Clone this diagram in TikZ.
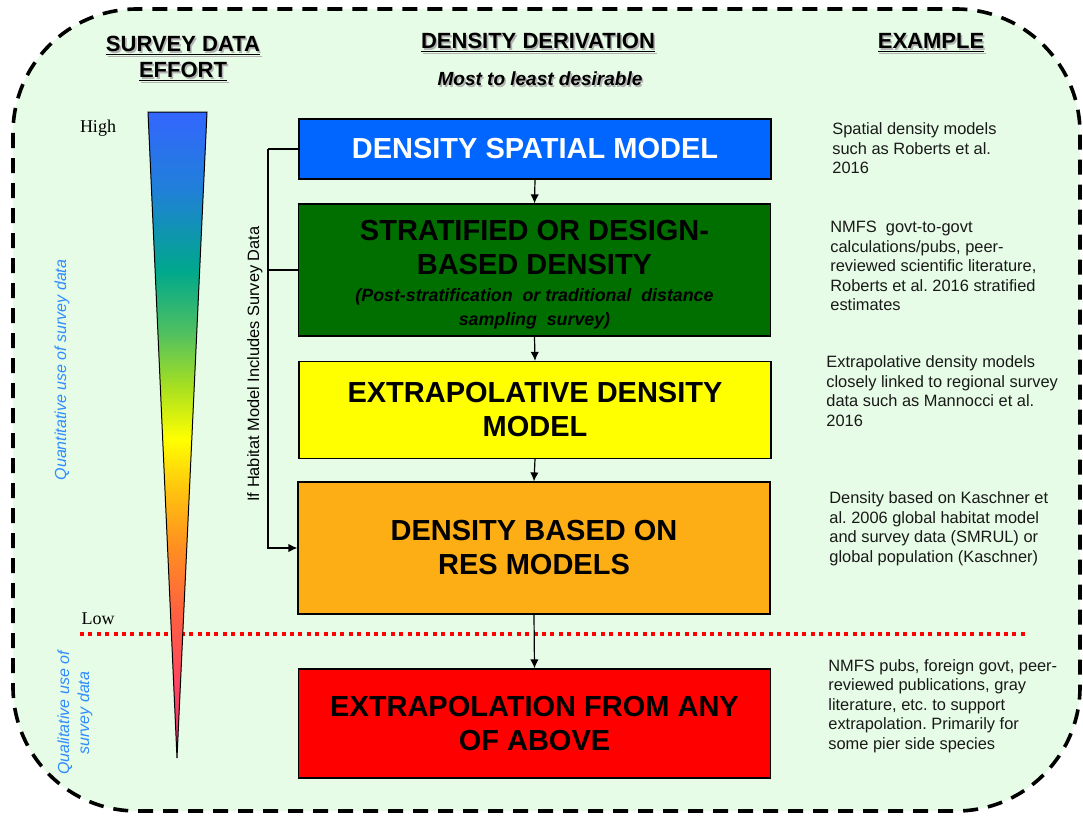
\documentclass[tikz,border=0pt]{standalone}
\usepackage{fontspec}
\setmainfont{Liberation Sans}
\newfontfamily\hlfont{Liberation Serif}
\usetikzlibrary{arrows.meta}

\definecolor{bgmint}{HTML}{E6FCE6}
\definecolor{spatialblue}{HTML}{0066FF}
\definecolor{stratgreen}{HTML}{006F00}
\definecolor{extrapyellow}{HTML}{FFFF00}
\definecolor{resorange}{HTML}{FDAE14}
\definecolor{abovered}{HTML}{FF0000}
\definecolor{usageblue}{HTML}{2E8CFF}
\definecolor{efftop}{HTML}{3366FF}
\definecolor{effsky}{HTML}{2080D8}
\definecolor{effteal}{HTML}{00A88C}
\definecolor{effgreen}{HTML}{50C060}
\definecolor{efflime}{HTML}{A8E020}
\definecolor{effyellow}{HTML}{FFFF00}
\definecolor{effamber}{HTML}{FFC010}
\definecolor{effoj}{HTML}{FF9020}
\definecolor{effcoral}{HTML}{FF6040}
\definecolor{effpink}{HTML}{FF4860}
\definecolor{efftip}{HTML}{E03070}

\pgfdeclareverticalshading{effort}{100bp}{color(0bp)=(efftip); color(25bp)=(efftip);
  color(31bp)=(effpink); color(36.2bp)=(effcoral); color(41.4bp)=(effoj);
  color(45.5bp)=(effamber); color(49.7bp)=(effyellow); color(53.7bp)=(efflime);
  color(57.9bp)=(effgreen); color(62.7bp)=(effteal); color(69bp)=(effsky);
  color(75bp)=(efftop); color(100bp)=(efftop)}

\newcommand{\titlefont}{\fontsize{14.5}{17}\selectfont\bfseries}
\newcommand{\subfont}{\fontsize{8.9}{12}\selectfont\bfseries\itshape}
\newcommand{\shadowed}[1]{\makebox[0pt][l]{\hspace*{0.8pt}\raisebox{-0.8pt}{\textcolor{black!30}{#1}}}#1}
\frenchspacing

\tikzset{
  frame/.style={draw=black, line width=1.8pt, dash pattern=on 7.5pt off 5pt,
    fill=bgmint, rounded corners=62pt},
  stage/.style={draw=black, line width=0.6pt, minimum width=236pt, inner sep=0pt,
    align=center, font=\titlefont},
  head/.style={inner sep=0pt, align=center, font=\fontsize{11}{13}\selectfont\bfseries},
  note/.style={anchor=west, inner sep=0pt, align=left, text=black!90,
    font=\fontsize{8.2}{9.75}\selectfont},
  usage/.style={inner sep=0pt, rotate=90, align=center, text=usageblue,
    font=\fontsize{8}{10}\selectfont\itshape},
  level/.style={inner sep=0pt, font=\hlfont\fontsize{9}{11}\selectfont},
  flow/.style={->, >={Latex[length=4.5pt,width=4.2pt]}, line width=0.6pt},
  link/.style={line width=0.6pt},
  lowline/.style={draw=red, line width=2pt, dash pattern=on 2pt off 2.2pt}
}

\begin{document}
\begin{tikzpicture}[x=0.5pt, y=-0.5pt]
\useasboundingbox (0,0) rectangle (1083,815);
\draw[frame] (13,9) rectangle (1080,811);
% Headers
\node[head] (hsurvey) at (183,60) {\shadowed{\underline{SURVEY DATA}}\\\shadowed{\underline{EFFORT}}};
\node[head] (hderiv) at (538,44) {\shadowed{\underline{DENSITY DERIVATION}}};
\node[head, font=\fontsize{9.5}{11}\selectfont\bfseries\itshape] (hdesire) at (540,80) {\shadowed{Most to least desirable}};
\node[head] (hexample) at (931,44) {\shadowed{\underline{EXAMPLE}}};
% Effort scale
\coordinate (lowL) at (80,634);
\coordinate (lowR) at (1025,634);
\draw[lowline] (lowL) -- (lowR);
\shade[shading=effort, draw=black, line width=0.5pt] (148,112) -- (207,112) -- (177,758) -- cycle;
\node[level] (high) at (98,128) {High};
\node[level] (low) at (98,619) {Low};
\node[usage] (quant) at (62,370) {Quantitative use of survey data};
\node[usage] (qual) at (75,713) {Qualitative use of\\survey data};
% Derivation boxes
\node[stage, fill=spatialblue, text=white, minimum height=30pt] (spatial) at (535,149) {DENSITY SPATIAL MODEL};
\node[stage, fill=stratgreen, minimum height=66pt] (strat) at (534.5,270) {\rule{0pt}{14.5pt}STRATIFIED OR DESIGN-\\BASED DENSITY\\[-3.5pt]
  {\subfont (Post-stratification\ \ or traditional\ \ distance}\\[-5pt] {\subfont sampling\ \ survey)}};
\node[stage, fill=extrapyellow, minimum height=48.5pt] (extrap) at (535,410) {EXTRAPOLATIVE DENSITY\\MODEL};
\node[stage, fill=resorange, minimum height=66pt] (res) at (534,548) {DENSITY BASED ON\\RES MODELS};
\node[stage, fill=abovered, minimum height=54.5pt] (above) at (534.5,723.5) {EXTRAPOLATION FROM ANY\\OF ABOVE};
% Arrows
\draw[flow] (spatial.south) -- (strat.north);
\draw[flow] (strat.south) -- (extrap.north);
\draw[flow] (extrap.south) -- (res.north);
\draw[flow] (res.south) -- (above.north);
\coordinate (rail) at (268,149);
\draw[link] (spatial.west) -- (rail);
\draw[link] (strat.west) -- (strat.west -| rail);
\draw[flow] (rail) |- (res.west);
\node[inner sep=0pt, rotate=90, font=\fontsize{8.2}{10}\selectfont] (habitat) at (255,364) {If Habitat Model Includes Survey Data};
% Examples
\node[note] (exspatial) at (832,148.5) {Spatial density models\\such as Roberts et al.\\2016};
\node[note] (exstrat) at (830,266) {NMFS\ \ govt-to-govt\\calculations/pubs, peer-\\reviewed scientific literature,\\Roberts et al. 2016 stratified\\estimates};
\node[note] (exextrap) at (826,391) {Extrapolative density models\\closely linked to regional survey\\data such as Mannocci et al.\\2016};
\node[note] (exres) at (829,529) {Density based on Kaschner et\\al. 2006 global habitat model\\and survey data (SMRUL) or\\global population (Kaschner)};
\node[note] (exabove) at (828,706) {NMFS pubs, foreign govt, peer-\\reviewed publications, gray\\literature, etc. to support\\extrapolation. Primarily for\\some pier side species};
\end{tikzpicture}
\end{document}
